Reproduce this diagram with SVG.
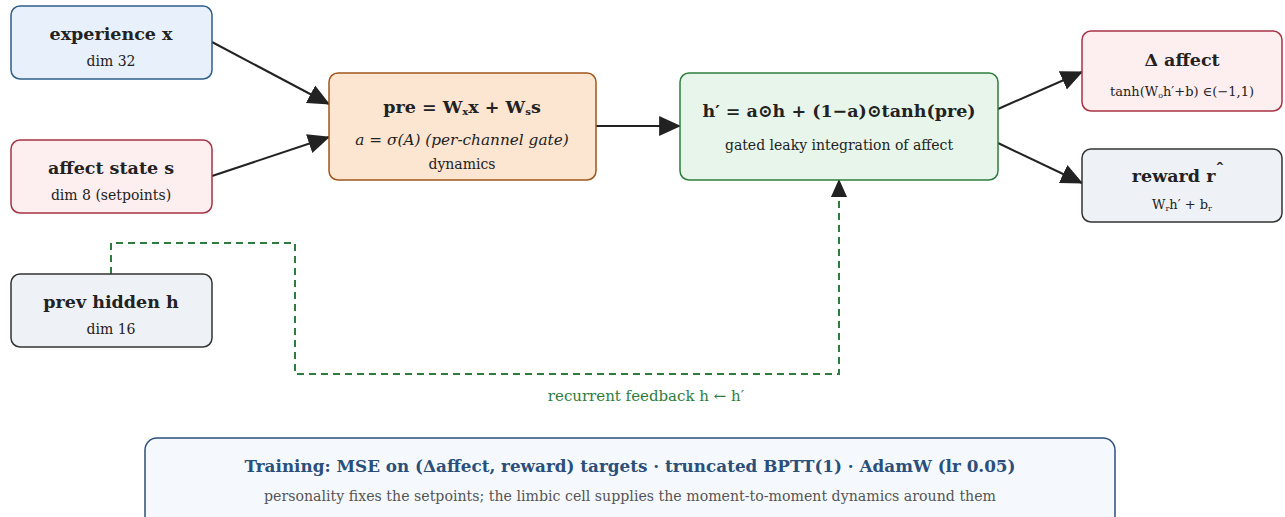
<svg xmlns="http://www.w3.org/2000/svg" width="1285" height="517" viewBox="0 0 1285 517">
<defs>
<marker id="ahb" viewBox="0 0 10 10" refX="9.5" refY="5" markerWidth="22" markerHeight="22" markerUnits="userSpaceOnUse" orient="auto">
<path d="M0,0.5 L10,5 L0,9.5 z" fill="#222"/>
</marker>
<marker id="ahg" viewBox="0 0 10 10" refX="9.5" refY="5" markerWidth="18" markerHeight="18" markerUnits="userSpaceOnUse" orient="auto">
<path d="M0,0.5 L10,5 L0,9.5 z" fill="#222"/>
</marker>
<style>
text{font-family:"DejaVu Serif","Liberation Serif",serif;fill:#222;text-anchor:middle}
.t{font-weight:bold;font-size:17.5px}
.s{font-size:14px}
.xs{font-size:13px}
.box{stroke-width:1.5}
.edge{stroke:#222;stroke-width:2;fill:none;marker-end:url(#ahb)}
.fb{stroke:#2e7d3e;stroke-width:2;fill:none;stroke-dasharray:7 5;marker-end:url(#ahg)}
</style>
</defs>
<g id="connectors">
<line class="edge" x1="212" y1="42" x2="329" y2="104"/>
<line class="edge" x1="212" y1="176" x2="329" y2="137"/>
<line class="edge" x1="596" y1="126" x2="680" y2="126"/>
<line class="edge" x1="998" y1="109" x2="1082" y2="72"/>
<line class="edge" x1="998" y1="143" x2="1082" y2="183"/>
<path class="fb" d="M111,274 V243 H295 V374 H839 V180"/>
<text x="646" y="401" style="fill:#2e7d3e;font-size:15px">recurrent feedback h ← h′</text>
</g>
<g id="experience">
<rect class="box" x="11" y="6" width="201" height="73" rx="9" fill="#e8f0fb" stroke="#2f5d8a"/>
<text class="t" x="111" y="40">experience x</text>
<text class="s" x="111" y="66">dim 32</text>
</g>
<g id="affect-state">
<rect class="box" x="11" y="140" width="201" height="73" rx="9" fill="#fdeef0" stroke="#a83244"/>
<text class="t" x="111" y="174">affect state s</text>
<text class="s" x="111" y="200">dim 8 (setpoints)</text>
</g>
<g id="prev-hidden">
<rect class="box" x="11" y="274" width="201" height="73" rx="9" fill="#eef1f5" stroke="#333"/>
<text class="t" x="111" y="308">prev hidden h</text>
<text class="s" x="111" y="334">dim 16</text>
</g>
<g id="pre">
<rect class="box" x="329" y="73" width="267" height="107" rx="9" fill="#fce5d1" stroke="#a0571c"/>
<text class="t" x="462" y="113" style="font-size:17.5px">pre = W<tspan font-size="10" dy="2">x</tspan><tspan dy="-2">x + W</tspan><tspan font-size="10" dy="2">s</tspan><tspan dy="-2">s</tspan></text>
<text x="462" y="145" style="font-style:italic;font-size:15.3px">a = σ(A) (per-channel gate)</text>
<text class="s" x="462" y="169">dynamics</text>
</g>
<g id="hidden-update">
<rect class="box" x="680" y="73" width="318" height="107" rx="9" fill="#e8f5ea" stroke="#2e7d3e"/>
<text class="t" x="839" y="117" style="font-size:17.5px">h′ = a⊙h + (1−a)⊙tanh(pre)</text>
<text class="s" x="839" y="150">gated leaky integration of affect</text>
</g>
<g id="delta-affect">
<rect class="box" x="1082" y="31" width="200" height="80" rx="9" fill="#fdeef0" stroke="#a83244"/>
<text class="t" x="1182" y="66">Δ affect</text>
<text class="xs" x="1182" y="96">tanh(W<tspan font-size="8" dy="2">o</tspan><tspan dy="-2">h′+b) ∈(−1,1)</tspan></text>
</g>
<g id="reward">
<rect class="box" x="1082" y="149" width="200" height="73" rx="9" fill="#eef1f5" stroke="#333"/>
<text class="t" x="1178" y="182">reward r<tspan dy="-7">ˆ</tspan></text>
<text class="xs" x="1182" y="209">W<tspan font-size="8" dy="2">r</tspan><tspan dy="-2">h′ + b</tspan><tspan font-size="8" dy="2">r</tspan></text>
</g>
<g id="training">
<rect class="box" x="145" y="438" width="970" height="90" rx="12" fill="#f5f9fd" stroke="#2b4f7a"/>
<text x="630" y="472" textLength="771" lengthAdjust="spacingAndGlyphs" style="font-weight:bold;font-size:16.5px;fill:#2b4f7a">Training: MSE on (Δaffect, reward) targets · truncated BPTT(1) · AdamW (lr 0.05)</text>
<text x="630" y="501" textLength="732" lengthAdjust="spacingAndGlyphs" style="font-size:14px;fill:#555">personality fixes the setpoints; the limbic cell supplies the moment-to-moment dynamics around them</text>
</g>
</svg>
